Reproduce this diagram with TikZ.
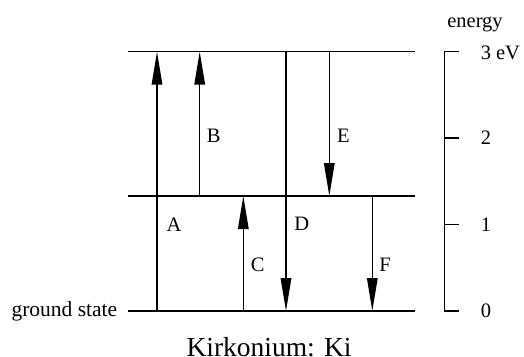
\documentclass[tikz,border=0pt]{standalone}
\usepackage{fontspec}
\setmainfont{Liberation Serif}
\usetikzlibrary{arrows.meta}
\begin{document}
\begin{tikzpicture}[x=1pt,y=-1pt,
  line width=1.5pt,
  level/.style={line width=1.5pt},
  trans/.style={line width=1.5pt,-{Triangle[length=33pt,width=10.5pt]}},
  plain/.style={line width=1.5pt},
  lab/.style={inner sep=0pt,font=\fontsize{20.5}{24}\selectfont},
  title/.style={inner sep=0pt,font=\fontsize{27.5}{32}\selectfont}]
\useasboundingbox (0,0) rectangle (524,356);
% levels
\coordinate (L0a) at (128,311); \coordinate (L0b) at (415,311);
\coordinate (L1a) at (128,196); \coordinate (L1b) at (415,196);
\coordinate (L3a) at (128,51.7); \coordinate (L3b) at (415,51.7);
\draw[level] (L0a) -- (L0b);
\draw[level] (L1a) -- (L1b);
\draw[level] (L3a) -- (L3b);
% transition end points
\coordinate (A0) at (157,311);   \coordinate (A3) at (157,51.7);
\coordinate (B1) at (199.7,196); \coordinate (B3) at (199.7,51.7);
\coordinate (C0) at (243.3,311); \coordinate (C1) at (243.3,196);
\coordinate (D3) at (286,51.7);  \coordinate (D0) at (286,311);
\coordinate (E3) at (329.3,51.7);\coordinate (E1) at (329.3,196);
\coordinate (F1) at (372.3,196); \coordinate (F0) at (372.3,311);
\draw[trans] (A0) -- (A3);
\draw[trans] (B1) -- (B3);
\draw[trans] (C0) -- (C1);
\draw[trans] (D3) -- (D0);
\draw[trans] (E3) -- (E1);
\draw[trans] (F1) -- (F0);
% labels
\node[lab] (la) at (174,225) {A};
\node[lab] (lb) at (213.7,135.7) {B};
\node[lab] (lc) at (257.7,265) {C};
\node[lab] (ld) at (301.7,224) {D};
\node[lab] (le) at (343.3,135.7) {E};
\node[lab] (lf) at (385,265) {F};
\node[lab,anchor=base east,font=\fontsize{21.5}{24}\selectfont] (gs) at (118,316.5) {ground state};
% energy axis
\coordinate (X3) at (444.3,51.7); \coordinate (X0) at (444.3,311);
\coordinate (T3) at (459.3,51.7); \coordinate (T2) at (459.3,137.9);
\coordinate (T1) at (459.3,224.5); \coordinate (T0) at (459.3,311);
\coordinate (X2) at (444.3,137.9); \coordinate (X1) at (444.3,224.5);
\draw[plain] (T3) -- (X3) -- (X0) -- (T0);
\draw[plain] (X2) -- (T2);
\draw[plain] (X1) -- (T1);
\node[lab,anchor=west] (e3) at (480,52.5) {3 eV};
\node[lab,anchor=west] (e2) at (480,137.9) {2};
\node[lab,anchor=west] (e1) at (480,224.5) {1};
\node[lab,anchor=west] (e0) at (480,311) {0};
\node[lab,anchor=base] (en) at (475,27.5) {energy};
\node[title,anchor=base] (ttl) at (269,356.5) {Kirkonium: Ki};
\end{tikzpicture}
\end{document}
